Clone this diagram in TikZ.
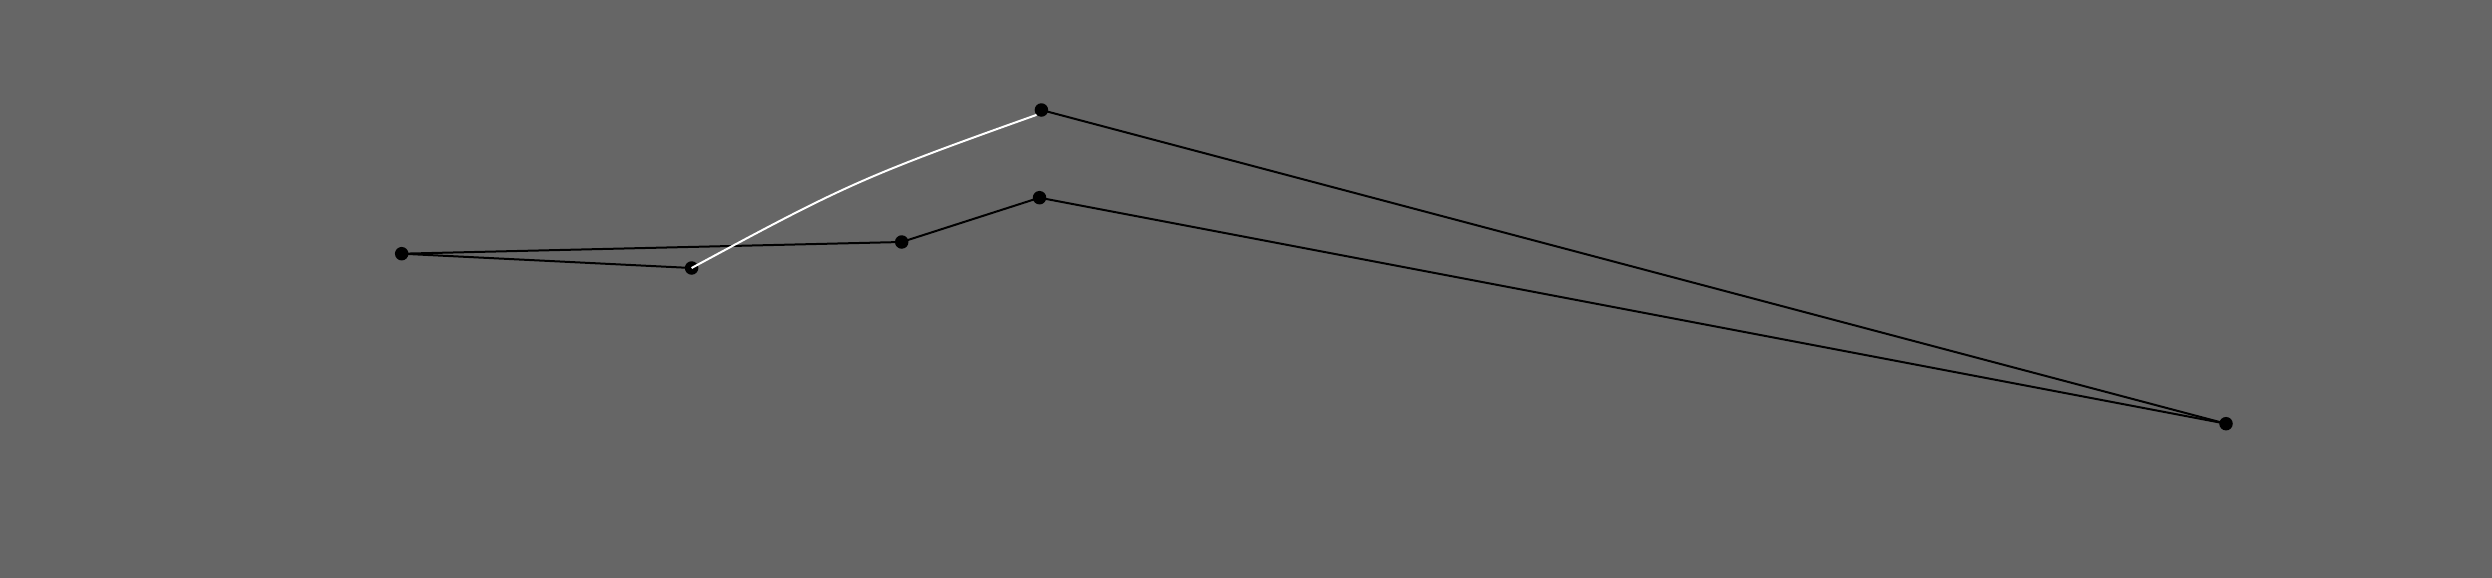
\documentclass[tikz,border=0pt]{standalone}
\definecolor{bg}{HTML}{666666}
\tikzset{
  dot/.style={circle, fill=black, inner sep=0pt, minimum size=13.5pt},
  edge/.style={draw=black, line width=2pt},
  wedge/.style={draw=white, line width=2pt},
}
\begin{document}
\begin{tikzpicture}[x=1pt, y=-1pt]
\fill[bg] (0,0) rectangle (2492,578);
\useasboundingbox (0,0) rectangle (2492,578);
\coordinate (A) at (401.7,253.7);
\coordinate (B) at (691.6,268);
\coordinate (C) at (901.7,242);
\coordinate (D) at (1039.5,197.7);
\coordinate (E) at (1041.4,110);
\coordinate (F) at (2226,423.7);
\draw[edge] (A) -- (B);
\draw[edge] (A) -- (C);
\draw[edge] (C) -- (D);
\draw[edge] (D) -- (F);
\draw[edge] (E) -- (F);
\node[dot] (nA) at (A) {};
\node[dot] (nC) at (C) {};
\node[dot] (nD) at (D) {};
\node[dot] (nE) at (E) {};
\node[dot] (nF) at (F) {};
\node[dot] (nB) at (B) {};
\draw[wedge] (nB.center) .. controls (845,185) and (865,176) .. (nE.south west);
\end{tikzpicture}
\end{document}
